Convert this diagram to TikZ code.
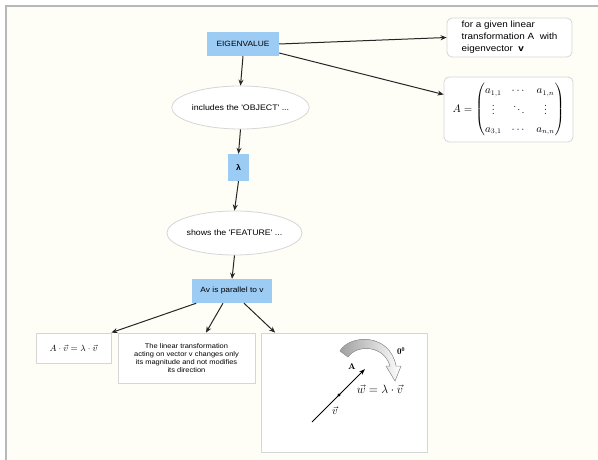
\documentclass[tikz,border=0pt]{standalone}
\usepackage{amsmath}
\usepackage{fontspec}
\newfontfamily\lsans[FakeStretch=1.1]{Liberation Sans}
\usetikzlibrary{arrows.meta,shapes.geometric}
\definecolor{bg}{HTML}{FEFEF7}
\definecolor{boxblue}{HTML}{9CCBF4}
\definecolor{edgegray}{HTML}{D6D6D6}
\definecolor{framegray}{HTML}{B8B8B8}
\begin{document}
\begin{tikzpicture}[x=1pt,y=-1pt,
  arr/.style={-{Stealth[length=6pt,width=5pt]}, line width=1pt, draw=black!85},
  bluebox/.style={fill=boxblue, draw=none, inner sep=0pt, font=\lsans\fontsize{7.6}{9}\selectfont},
  ellbox/.style={ellipse, fill=white, draw=edgegray, line width=0.8pt, inner sep=0pt, font=\lsans\fontsize{8}{10}\selectfont},
  roundbox/.style={rounded corners=5pt, fill=white, draw=edgegray, line width=0.8pt, inner sep=0pt},
  plainbox/.style={fill=white, draw=edgegray, line width=0.8pt, inner sep=0pt},
  lbl/.style={inner sep=0pt}]
% canvas
\fill[white] (0,0) rectangle (598,460);
\useasboundingbox (0,0) rectangle (598,460);
\fill[bg] (6,6) rectangle (598,460);
\draw[framegray, line width=1.5pt] (6,460) -- (6,6) -- (598,6);

% top row
\node[bluebox, minimum width=72pt, minimum height=24pt] (eig) at (243,44) {EIGENVALUE};
\node[roundbox, minimum width=125pt, minimum height=39pt, align=left,
      font=\lsans\fontsize{9}{12}\selectfont] (given) at (509.5,37.5)
      {for a given linear\\transformation A\ \ with\\eigenvector\ \ \textbf{v}};
\node[roundbox, minimum width=129pt, minimum height=65pt] (mat) at (508.5,109.5)
      {\fontsize{10.5}{12}\selectfont\renewcommand{\arraystretch}{1.5}\setlength{\arraycolsep}{5pt}%
       $A=\begin{pmatrix} a_{1,1} & \cdots & a_{1,n}\\ \vdots & \ddots & \vdots\\ a_{3,1} & \cdots & a_{n,n}\end{pmatrix}$};

% main column
\node[ellbox, minimum width=123pt, minimum height=43pt] (ell1) at (240.5,107.5) {includes the 'OBJECT' ...};
\node[bluebox, minimum width=21pt, minimum height=27pt, font=\lsans\bfseries\fontsize{8}{10}\selectfont] (lam) at (238.5,167.5) {λ};
\node[ellbox, minimum width=121pt, minimum height=44pt] (ell2) at (234.5,233) {shows the 'FEATURE' ...};
\node[bluebox, minimum width=80pt, minimum height=24pt] (av) at (232,291) {Av is parallel to v};

% bottom row
\node[plainbox, minimum width=75pt, minimum height=30pt] (eq) at (73.5,348)
      {\fontsize{9.5}{12}\selectfont$A\cdot\vec{v}=\lambda\cdot\vec{v}$};
\node[plainbox, minimum width=137pt, minimum height=50pt, align=center,
      font=\lsans\fontsize{6.8}{7.8}\selectfont] (desc) at (186.5,358)
      {The linear transformation\\acting on vector v changes only\\its magnitude and not modifies\\its direction};
\node[plainbox, minimum width=166pt, minimum height=119pt] (pic) at (344,392.5) {};

% connectors
\draw[arr] (eig.east) -- (given.west);
\draw[arr] ([yshift=-9pt]eig.east) -- ([yshift=15pt]mat.west);
\draw[arr] (eig.south) -- (ell1.north);
\draw[arr] (ell1.south) -- (lam.north);
\draw[arr] (lam.south) -- (ell2.north);
\draw[arr] (ell2.south) -- (av.north);
\draw[arr] ([xshift=4.5pt]av.south west) -- (eq.north east);
\draw[arr] ([xshift=-9pt]av.south) -- ([xshift=19.5pt]desc.north);
\draw[arr] ([xshift=12pt]av.south) -- ([xshift=14.5pt]pic.north west);

% picture content
\fill[left color=gray!75, right color=white, draw=gray!80, line width=0.5pt]
  (340,351) .. controls (350,334) and (390,333) .. (396,366)
  -- (401,366) -- (395,381) -- (386,366) -- (390,366)
  .. controls (384,345) and (357,344) .. (348,357) -- cycle;
\node[lbl, font=\fontsize{9}{10}\selectfont] (deg) at (401,351) {$\mathbf{0^0}$};
\coordinate (vs) at (312,422);
\coordinate (ve) at (365,369);
\draw[-{Stealth[length=6pt,width=4pt]}, line width=1pt] (vs) -- (ve);
\fill (339,395) circle (1.6pt);
\node[lbl, font=\bfseries\fontsize{8.5}{10}\selectfont] (alab) at (352,367) {A};
\node[lbl, font=\fontsize{11}{12}\selectfont] (vlab) at (335,411) {$\vec{v}$};
\node[lbl, font=\fontsize{13}{14}\selectfont] (wlab) at (380,389) {$\vec{w}=\lambda\cdot\vec{v}$};
\end{tikzpicture}
\end{document}
